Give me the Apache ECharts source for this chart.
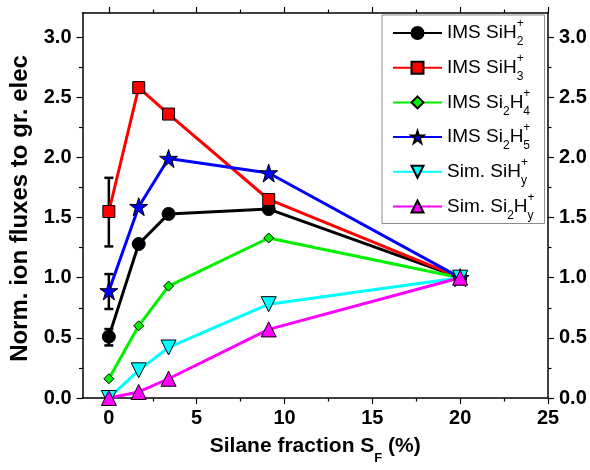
<!DOCTYPE html>
<html>
<head>
<meta charset="utf-8">
<script src="https://cdn.jsdelivr.net/npm/echarts@6/dist/echarts.min.js"></script>
<style>
  html, body { margin: 0; padding: 0; background: #fff; }
  #chart { width: 590px; height: 470px; }
</style>
</head>
<body>
<div id="chart"></div>
<script>
// Silane fraction S_F (%) at which the ion fluxes were evaluated
const silaneFraction = [0, 1.7, 3.4, 9.1, 20];

// Normalised ion fluxes to the grounded electrode
const imsSiH2 = [0.51, 1.28, 1.53, 1.57, 1.0];
const imsSiH3 = [1.55, 2.58, 2.36, 1.65, 1.0];
const imsSi2H4 = [0.16, 0.60, 0.93, 1.33, 1.0];
const imsSi2H5 = [0.89, 1.59, 1.99, 1.87, 1.0];
const simSiHy = [0.0, 0.23, 0.42, 0.78, 1.0];
const simSi2Hy = [0.0, 0.05, 0.16, 0.57, 1.0];

// Error bars at S_F = 0 (centre value and half-width)
const errX = [0, 0, 0];
const errCenter = [0.505, 0.885, 1.545];
const errHalf = [0.068, 0.145, 0.285];

// Tick values
const xMajorTicks = [0, 5, 10, 15, 20, 25];
const xMinorTicks = [2.5, 7.5, 12.5, 17.5, 22.5];
const yMajorTicks = [0, 0.5, 1.0, 1.5, 2.0, 2.5, 3.0];
const yMinorTicks = [0.25, 0.75, 1.25, 1.75, 2.25, 2.75];

const seriesNames = ['IMS SiH2+', 'IMS SiH3+', 'IMS Si2H4+', 'IMS Si2H5+', 'Sim. SiHy+', 'Sim. Si2Hy+'];
const legendRich = [
  'IMS SiH{sp|+}{sb|2}',
  'IMS SiH{sp|+}{sb|3}',
  'IMS Si{sb|2}H{sp|+}{sb|4}',
  'IMS Si{sb|2}H{sp|+}{sb|5}',
  'Sim. SiH{sp|+}{sb|y}',
  'Sim. Si{sb|2}H{sp|+}{sb|y}'
];

const starPath = 'path://M50,0 L61.8,35.1 L100,35.1 L69.1,56.7 L80.9,93.3 L50,71 L19.1,93.3 L30.9,56.7 L0,35.1 L38.2,35.1 Z';

const FONT = '"Liberation Sans", Arial, sans-serif';

function pairs(values) {
  return silaneFraction.map((x, i) => [x, values[i]]);
}

function lineSeries(name, values, color, symbol, size, extra) {
  return Object.assign({
    name: name,
    type: 'line',
    xAxisIndex: 0,
    yAxisIndex: 0,
    data: pairs(values),
    symbol: symbol,
    symbolSize: size,
    showAllSymbol: true,
    lineStyle: { color: color, width: 3 },
    itemStyle: { color: color, borderColor: '#000', borderWidth: 1 },
    emphasis: { disabled: true },
    animation: false
  }, extra || {});
}

const axisLineStyle = { color: '#000', width: 1.5 };

function xAxisDef(position, ticks, len, showLabels, showLine) {
  return {
    type: 'value',
    position: position,
    min: -1.5,
    max: 25,
    axisLine: { show: showLine, onZero: false, lineStyle: axisLineStyle },
    axisTick: { show: true, inside: false, length: len, customValues: ticks, lineStyle: { color: '#000', width: 1.2 } },
    axisLabel: showLabels ? {
      show: true, customValues: ticks, margin: 10,
      color: '#000', fontFamily: FONT, fontWeight: 'bold', fontSize: 20
    } : { show: false },
    splitLine: { show: false }
  };
}

function yAxisDef(position, ticks, len, showLabels, showLine) {
  return {
    type: 'value',
    position: position,
    min: 0,
    max: 3.2,
    axisLine: { show: showLine, onZero: false, lineStyle: axisLineStyle },
    axisTick: { show: true, inside: false, length: len, customValues: ticks, lineStyle: { color: '#000', width: 1.2 } },
    axisLabel: showLabels ? {
      show: true, customValues: ticks, margin: 11,
      color: '#000', fontFamily: FONT, fontWeight: 'bold', fontSize: 20,
      formatter: v => v.toFixed(1)
    } : { show: false },
    splitLine: { show: false }
  };
}

const xBottom = xAxisDef('bottom', xMajorTicks, 6, true, true);
xBottom.name = 'Silane fraction S{sb|F} (%)';
xBottom.nameLocation = 'middle';
xBottom.nameGap = 38;
xBottom.nameTextStyle = {
  color: '#000', fontFamily: FONT, fontWeight: 'bold', fontSize: 21,
  rich: { sb: { fontFamily: FONT, fontWeight: 'bold', fontSize: 13, verticalAlign: 'bottom', lineHeight: 14, padding: [0, 0, -8, 0] } }
};

const yLeft = yAxisDef('left', yMajorTicks, 6, true, true);
yLeft.name = 'Norm. ion fluxes to gr. elec';
yLeft.nameLocation = 'middle';
yLeft.nameGap = 47;
yLeft.nameTextStyle = { color: '#000', fontFamily: FONT, fontWeight: 'bold', fontSize: 24, padding: [0, 6, 0, 0] };

const option = {
  backgroundColor: '#fff',
  animation: false,
  grid: { left: 82.5, right: 42, top: 13, bottom: 65, containLabel: false },
  xAxis: [
    xBottom,
    xAxisDef('bottom', xMinorTicks, 3.5, false, false),
    xAxisDef('top', xMajorTicks, 6, false, true),
    xAxisDef('top', xMinorTicks, 3.5, false, false)
  ],
  yAxis: [
    yLeft,
    yAxisDef('left', yMinorTicks, 3.5, false, false),
    yAxisDef('right', yMajorTicks, 6, true, true),
    yAxisDef('right', yMinorTicks, 3.5, false, false)
  ],
  legend: {
    orient: 'vertical',
    left: 382,
    top: 15,
    data: seriesNames,
    itemWidth: 49,
    itemHeight: 15,
    itemGap: 4.7,
    padding: [3, 10, 2, 10],
    borderColor: '#8c8c8c',
    borderWidth: 1,
    backgroundColor: '#fff',
    selectedMode: false,
    formatter: name => legendRich[seriesNames.indexOf(name)],
    textStyle: {
      color: '#000', fontFamily: FONT, fontSize: 19, lineHeight: 30,
      rich: {
        sp: { fontFamily: FONT, fontSize: 12, width: 0, verticalAlign: 'top', lineHeight: 14 },
        sb: { fontFamily: FONT, fontSize: 12, verticalAlign: 'bottom', lineHeight: 14 }
      }
    }
  },
  series: [
    {
      name: 'errorbars',
      type: 'custom',
      xAxisIndex: 0,
      yAxisIndex: 0,
      z: 1,
      data: errX.map((x, i) => [x, errCenter[i] - errHalf[i], errCenter[i] + errHalf[i]]),
      encode: { x: 0, y: [1, 2] },
      renderItem: function (params, api) {
        const lo = api.coord([api.value(0), api.value(1)]);
        const hi = api.coord([api.value(0), api.value(2)]);
        const w = 4.5;
        const style = { stroke: '#000', lineWidth: 2.5 };
        return {
          type: 'group',
          children: [
            { type: 'line', shape: { x1: lo[0], y1: lo[1], x2: hi[0], y2: hi[1] }, style: style },
            { type: 'line', shape: { x1: lo[0] - w, y1: lo[1], x2: lo[0] + w, y2: lo[1] }, style: style },
            { type: 'line', shape: { x1: hi[0] - w, y1: hi[1], x2: hi[0] + w, y2: hi[1] }, style: style }
          ]
        };
      },
      silent: true,
      animation: false
    },
    lineSeries(seriesNames[0], imsSiH2, '#000000', 'circle', 13, { z: 3 }),
    lineSeries(seriesNames[1], imsSiH3, '#ff0000', 'rect', 12, { z: 3 }),
    lineSeries(seriesNames[2], imsSi2H4, '#00f000', 'diamond', 10, { z: 3 }),
    lineSeries(seriesNames[3], imsSi2H5, '#0000ff', starPath, 18, { z: 3 }),
    lineSeries(seriesNames[4], simSiHy, '#00ffff', 'triangle', 15, { z: 3, symbolRotate: 180 }),
    lineSeries(seriesNames[5], simSi2Hy, '#ff00ff', 'triangle', 15, { z: 3 })
  ]
};

const chart = echarts.init(document.getElementById('chart'), null, { renderer: 'canvas' });
chart.setOption(option);
</script>
</body>
</html>
